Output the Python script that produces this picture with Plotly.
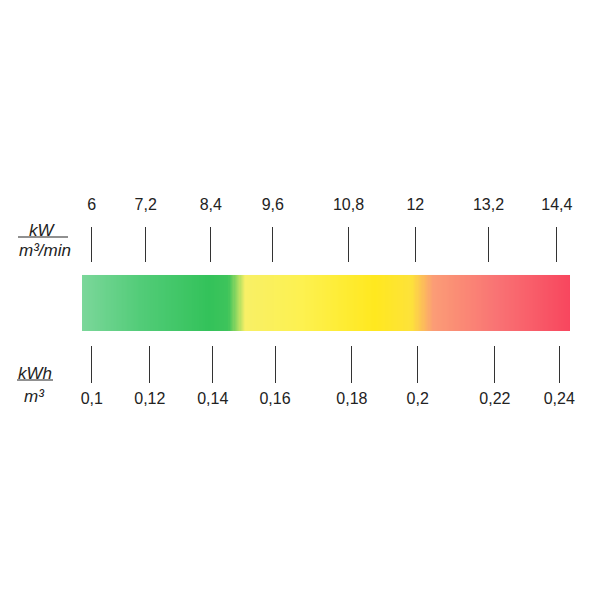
import numpy as np
import plotly.graph_objects as go

W, H = 600, 600
OFF = 8  # page body margin shifts the figure by 8px
# plot area in pixels (as seen in the page): bar runs 82..570, axes sit at 263 (top) and 345 (bottom)
L, R, T, B = 82 - OFF, 570 - OFF, 263 - OFF, 345 - OFF

# top scale: kW / (m³/min)
TOP_LABELS = ["6", "7,2", "8,4", "9,6", "10,8", "12", "13,2", "14,4"]
TOP_POS = [2.0, 13.05, 26.4, 39.1, 54.6, 68.3, 83.3, 97.3]  # % along the bar

# bottom scale: kWh / m³
BOTTOM_LABELS = ["0,1", "0,12", "0,14", "0,16", "0,18", "0,2", "0,22", "0,24"]
BOTTOM_POS = [2.0, 13.9, 26.8, 39.55, 55.3, 68.8, 84.6, 97.8]

# colour stops of the gradient bar (fraction along the bar)
STOPS = [0.0, 0.12, 0.26, 0.30, 0.335, 0.45, 0.60, 0.675, 0.72, 0.85, 1.0]
STOP_COLORS = ["#7bd79a", "#52cc78", "#33c25a", "#3ec45b", "#f8f066", "#fdf150",
               "#ffe81f", "#fde23a", "#fb9c76", "#f97374", "#f8465e"]

TEXT = "#222222"
TICK = "#333333"
FONT = "Liberation Sans, Arial, sans-serif"


def px(x, y):
    # page pixel position -> paper coordinates
    return (x - OFF - L) / (R - L), (B - (y - OFF)) / (B - T)


edges = np.linspace(0, 100, 401)
centers = (edges[:-1] + edges[1:]) / 2

fig = go.Figure()
fig.add_trace(go.Heatmap(
    z=[centers], x=edges, y=[-0.5, 0.5],
    zmin=0, zmax=100,
    colorscale=[[s, c] for s, c in zip(STOPS, STOP_COLORS)],
    showscale=False, hoverinfo="skip",
))
# invisible trace so the top axis is drawn
fig.add_trace(go.Scatter(x=[0, 100], y=[0, 0], xaxis="x2", mode="markers",
                         marker=dict(opacity=0), hoverinfo="skip", showlegend=False))

axis_common = dict(range=[0, 100], showgrid=False, zeroline=False, showline=False,
                   ticks="outside", tickcolor=TICK, tickwidth=1.3,
                   tickfont=dict(family=FONT, size=16, color=TEXT), fixedrange=True)

fig.update_layout(
    width=W, height=H,
    margin=dict(l=L, r=W - R, t=T, b=H - B),
    paper_bgcolor="white", plot_bgcolor="white",
    showlegend=False,
    xaxis=dict(**axis_common, tickmode="array", tickvals=BOTTOM_POS, ticktext=BOTTOM_LABELS,
               ticklen=37, side="bottom", ticklabelstandoff=2),
    xaxis2=dict(**axis_common, tickmode="array", tickvals=TOP_POS, ticktext=TOP_LABELS,
                ticklen=35, side="top", overlaying="x", anchor="y", ticklabelstandoff=11),
    yaxis=dict(range=[-0.75, 0.714], visible=False, fixedrange=True),
)

# unit labels on the left
units = [("<i>kW</i>", 42, 230), ("<i>m³/min</i>", 45, 250),
         ("<i>kWh</i>", 35, 373), ("<i>m³</i>", 34, 396)]
for text, x, y in units:
    xp, yp = px(x, y)
    fig.add_annotation(text=text, xref="paper", yref="paper", x=xp, y=yp,
                       xanchor="center", yanchor="middle", showarrow=False,
                       font=dict(family=FONT, size=17, color=TEXT))

for x0, x1, y in [(18, 68, 237), (17, 53, 380)]:
    a = px(x0, y)
    b = px(x1, y)
    fig.add_shape(type="line", xref="paper", yref="paper", x0=a[0], y0=a[1], x1=b[0], y1=b[1],
                  line=dict(color=TEXT, width=1.2))

fig.write_html("out.html")
